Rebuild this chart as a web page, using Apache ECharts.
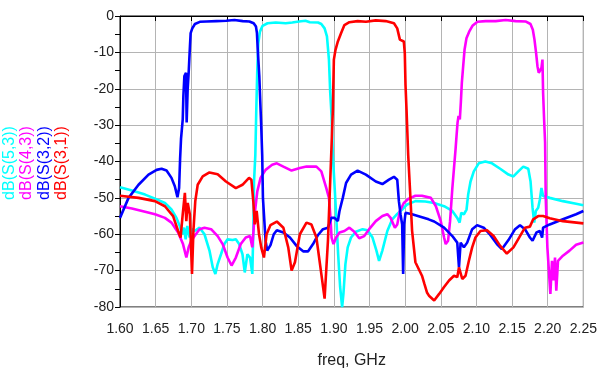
<!DOCTYPE html>
<html>
<head>
<meta charset="utf-8">
<script src="https://cdn.jsdelivr.net/npm/echarts@6/dist/echarts.min.js"></script>
<style>
  html, body { margin: 0; padding: 0; background: #fff; }
  #chart { width: 600px; height: 374px; }
</style>
</head>
<body>
<div id="chart"></div>
<script>
// 频率轴刻度 (GHz) 和 dB 轴刻度
const freqMin = 1.6
const freqMax = 2.25
const dbMin = -80
const dbMax = 0

// 各曲线 [freq, dB]
const s53 = [
  [1.600, -47.1], [1.6167, -48.0], [1.6352, -49.1], [1.6491, -50.2], [1.663, -51.4], [1.6722, -53.2],
  [1.6792, -55.5], [1.6838, -57.7], [1.687, -60.0], [1.6898, -58.2], [1.6921, -61.4], [1.6944, -57.7],
  [1.6977, -60.9], [1.7009, -58.6], [1.7046, -59.1], [1.7116, -58.2], [1.7185, -60.0], [1.7255, -64.5],
  [1.7301, -69.1], [1.7338, -70.9], [1.737, -68.2], [1.7417, -65.5], [1.7463, -62.7], [1.7509, -61.4],
  [1.7579, -61.6], [1.7625, -61.4], [1.7671, -62.7], [1.7718, -65.5], [1.775, -70.5], [1.7787, -65.5],
  [1.7824, -66.4], [1.7856, -70.9], [1.787, -59.1], [1.788, -45.5], [1.7898, -38.4], [1.7912, -25.6],
  [1.7926, -14.7], [1.794, -7.5], [1.7963, -4.3], [1.800, -2.7], [1.8069, -2.0], [1.8185, -1.8],
  [1.8324, -2.0], [1.8417, -1.8], [1.851, -1.5], [1.8602, -1.3], [1.8662, -1.7], [1.8778, -1.8],
  [1.8824, -2.2], [1.887, -3.4], [1.8903, -5.6], [1.8931, -12.0], [1.8949, -21.1], [1.8968, -27.5],
  [1.8986, -38.4], [1.9032, -54.5], [1.906, -65.5], [1.9088, -74.5], [1.9116, -80.0], [1.9134, -76.4],
  [1.9162, -68.2], [1.9194, -63.6], [1.9241, -60.9], [1.931, -59.3], [1.9403, -58.6], [1.9472, -58.9],
  [1.9542, -60.9], [1.9597, -64.5], [1.9634, -67.3], [1.968, -64.5], [1.975, -59.1], [1.9819, -55.9],
  [1.9889, -54.4], [1.9958, -53.2], [2.0028, -51.8], [2.0144, -50.9], [2.0282, -51.0], [2.0407, -51.4],
  [2.0546, -52.3], [2.0662, -53.6], [2.0731, -55.5], [2.0764, -56.8], [2.0787, -54.1], [2.0824, -54.5],
  [2.0861, -53.2], [2.0884, -49.1], [2.0917, -45.5], [2.0963, -42.7], [2.1032, -40.5], [2.1125, -40.0],
  [2.1218, -40.5], [2.1333, -42.0], [2.1449, -43.6], [2.1519, -44.1], [2.1588, -42.7], [2.1657, -41.4],
  [2.1727, -42.0], [2.1759, -45.5], [2.1787, -52.7], [2.181, -56.8], [2.1833, -53.6], [2.1866, -52.7],
  [2.1889, -50.5], [2.1912, -47.3], [2.1935, -49.5], [2.2028, -50.0], [2.2213, -50.9], [2.2398, -51.6],
  [2.25, -52.0]
]

const s43 = [
  [1.600, -52.3], [1.6167, -52.9], [1.6352, -53.8], [1.6491, -54.5], [1.663, -55.5], [1.6722, -56.8],
  [1.6815, -59.5], [1.6884, -62.7], [1.6931, -66.4], [1.6963, -63.6], [1.700, -61.8], [1.7056, -60.2],
  [1.7116, -58.6], [1.7185, -58.2], [1.7278, -58.6], [1.737, -60.5], [1.744, -62.7], [1.7509, -66.4],
  [1.7565, -68.6], [1.7625, -66.4], [1.7694, -62.7], [1.7764, -60.9], [1.7824, -60.5], [1.7856, -63.6],
  [1.7889, -54.5], [1.7926, -48.2], [1.7972, -44.5], [1.8042, -42.3], [1.8134, -40.9], [1.820, -40.5],
  [1.8292, -41.4], [1.8407, -42.5], [1.8523, -41.8], [1.8616, -41.4], [1.8755, -41.4], [1.8824, -42.7],
  [1.8894, -47.3], [1.8931, -50.0], [1.8949, -54.5], [1.8968, -60.9], [1.8995, -62.7], [1.9032, -60.9],
  [1.9079, -59.5], [1.9148, -59.1], [1.9218, -58.2], [1.9287, -59.3], [1.9356, -61.1], [1.9426, -60.5],
  [1.9495, -58.6], [1.9588, -56.4], [1.9681, -55.0], [1.975, -54.5], [1.9796, -55.5], [1.9856, -58.2],
  [1.9889, -57.3], [1.9926, -53.6], [1.9981, -51.4], [2.0051, -50.2], [2.0144, -49.4], [2.0236, -49.4],
  [2.0361, -50.0], [2.0431, -52.3], [2.050, -56.4], [2.0546, -60.9], [2.0569, -62.7], [2.0602, -61.8],
  [2.063, -56.4], [2.0662, -47.3], [2.0685, -41.8], [2.0708, -36.4], [2.0721, -32.9], [2.0735, -29.3],
  [2.0749, -27.5], [2.0767, -28.4], [2.0781, -23.8], [2.0795, -18.4], [2.0814, -13.8], [2.0833, -9.3],
  [2.086, -6.1], [2.0898, -4.3], [2.0944, -2.7], [2.1014, -1.6], [2.113, -1.4], [2.127, -1.4],
  [2.1409, -1.1], [2.1549, -1.4], [2.1688, -1.5], [2.1758, -2.2], [2.1791, -3.8], [2.1814, -6.5],
  [2.1837, -10.2], [2.1856, -13.8], [2.1874, -15.6], [2.1893, -16.1], [2.1912, -14.3], [2.1926, -12.0],
  [2.1935, -21.1], [2.1949, -28.4], [2.1963, -34.7], [2.1972, -50.0], [2.1995, -63.6], [2.2019, -70.9],
  [2.2037, -76.4], [2.206, -67.3], [2.2083, -72.7], [2.2102, -66.4], [2.212, -75.5], [2.2144, -67.3],
  [2.2213, -65.9], [2.2306, -64.5], [2.2398, -62.9], [2.25, -62.3]
]

const s32 = [
  [1.600, -55.5], [1.612, -50.0], [1.626, -46.4], [1.640, -43.6], [1.6514, -42.3], [1.6583, -42.0],
  [1.6653, -42.5], [1.6722, -44.5], [1.6769, -46.8], [1.6806, -49.8], [1.6829, -47.3], [1.6843, -39.3],
  [1.6856, -33.8], [1.688, -28.4], [1.6889, -22.0], [1.6903, -16.5], [1.6926, -15.6], [1.6935, -29.3],
  [1.6949, -20.2], [1.6963, -15.6], [1.6972, -12.0], [1.6981, -8.4], [1.6991, -4.7], [1.7014, -3.4],
  [1.7051, -2.2], [1.712, -1.6], [1.7213, -1.5], [1.7352, -1.4], [1.749, -1.3], [1.7606, -1.1],
  [1.7722, -1.4], [1.7815, -1.5], [1.7875, -2.0], [1.7907, -2.9], [1.7921, -4.7], [1.793, -8.4],
  [1.7954, -16.5], [1.7968, -23.8], [1.7981, -30.2], [1.7995, -38.4], [1.8005, -50.0], [1.8042, -61.8],
  [1.8065, -64.5], [1.8111, -63.0], [1.8157, -60.0], [1.820, -58.9], [1.8292, -59.5], [1.8384, -60.9],
  [1.8477, -63.2], [1.8569, -64.7], [1.8639, -64.7], [1.8708, -62.7], [1.8778, -60.2], [1.8847, -58.6],
  [1.8917, -58.2], [1.8963, -55.5], [1.9009, -55.5], [1.9056, -56.4], [1.9079, -53.6], [1.9125, -50.0],
  [1.9171, -45.9], [1.9241, -43.6], [1.9333, -42.5], [1.9449, -43.6], [1.9588, -45.5], [1.9681, -46.2],
  [1.9773, -45.0], [1.9843, -44.2], [1.9889, -45.0], [1.9912, -50.9], [1.9935, -54.5], [1.9958, -57.3],
  [1.9972, -70.9], [1.9986, -57.3], [2.0005, -54.1], [2.0097, -54.5], [2.0236, -55.3], [2.0329, -55.9],
  [2.0407, -56.5], [2.0546, -58.2], [2.0662, -60.5], [2.0731, -62.3], [2.0755, -69.1], [2.0778, -62.3],
  [2.0824, -63.6], [2.087, -62.3], [2.094, -58.6], [2.1009, -57.5], [2.1102, -58.2], [2.1194, -60.2],
  [2.1287, -62.7], [2.1356, -64.1], [2.1449, -61.6], [2.1542, -58.6], [2.1611, -57.5], [2.1681, -58.6],
  [2.175, -60.9], [2.1787, -61.8], [2.1843, -59.5], [2.1889, -59.1], [2.1921, -60.9], [2.1935, -58.2],
  [2.2028, -57.3], [2.2213, -55.9], [2.2398, -54.5], [2.25, -53.6]
]

const s31 = [
  [1.600, -49.4], [1.626, -50.0], [1.649, -50.9], [1.663, -52.3], [1.6745, -55.0], [1.6815, -59.1],
  [1.685, -60.9], [1.688, -54.5], [1.691, -48.6], [1.693, -56.4], [1.695, -51.4], [1.698, -54.5],
  [1.699, -60.0], [1.701, -70.9], [1.703, -59.0], [1.7056, -50.9], [1.709, -46.4], [1.716, -44.1],
  [1.7255, -43.0], [1.737, -43.5], [1.7486, -45.5], [1.7625, -47.3], [1.7718, -46.4], [1.781, -44.5],
  [1.7843, -45.0], [1.787, -51.0], [1.789, -57.3], [1.7917, -53.6], [1.795, -60.0], [1.7981, -63.6],
  [1.8019, -66.4], [1.8056, -60.0], [1.811, -57.5], [1.820, -56.5], [1.8292, -58.2], [1.836, -63.6],
  [1.8407, -70.0], [1.8454, -67.7], [1.8523, -60.0], [1.8616, -56.8], [1.8685, -57.3], [1.8755, -60.9],
  [1.8824, -70.9], [1.887, -77.7], [1.8917, -61.8], [1.8963, -38.0], [1.8986, -25.6], [1.900, -12.0],
  [1.9023, -9.3], [1.9056, -7.0], [1.9102, -4.7], [1.9148, -2.5], [1.9218, -1.7], [1.9333, -1.4],
  [1.945, -1.6], [1.9588, -1.2], [1.9727, -1.4], [1.9843, -2.0], [1.9889, -3.4], [1.9926, -6.5],
  [1.9981, -7.0], [1.9995, -10.2], [2.0005, -19.0], [2.0019, -25.6], [2.0042, -38.0], [2.0074, -50.0],
  [2.0097, -59.0], [2.0144, -67.7], [2.0236, -71.4], [2.0269, -73.6], [2.0306, -76.0], [2.0338, -77.0],
  [2.0407, -78.2], [2.0477, -76.4], [2.0546, -74.5], [2.0616, -72.7], [2.0685, -71.4], [2.0731, -71.8],
  [2.0755, -69.1], [2.0801, -72.3], [2.0847, -71.4], [2.0894, -67.3], [2.094, -63.6], [2.0986, -60.9],
  [2.1056, -59.1], [2.1148, -58.9], [2.1241, -60.5], [2.1333, -63.2], [2.1426, -65.3], [2.1519, -63.6],
  [2.1611, -60.5], [2.1681, -58.2], [2.175, -57.9], [2.1796, -55.9], [2.1866, -55.0], [2.1935, -55.0],
  [2.2028, -55.6], [2.2213, -56.4], [2.25, -57.0]
]

const seriesNames = ['dB(S(5,3))', 'dB(S(4,3))', 'dB(S(3,2))', 'dB(S(3,1))']
const seriesColors = ['#00ffff', '#ff00ff', '#0000ff', '#ff0000']
const seriesData = [s53, s43, s32, s31]

const fontFamily = 'Arial, "Liberation Sans", sans-serif'
const myChart = echarts.init(document.getElementById('chart'), null, { renderer: 'canvas' })

let series = seriesData.map((data, index) => ({
  name: seriesNames[index],
  type: 'line',
  data,
  showSymbol: false,
  symbol: 'none',
  lineStyle: { color: seriesColors[index], width: 2.6 },
  itemStyle: { color: seriesColors[index] },
  emphasis: { disabled: true }
}))

// 左侧竖排的曲线名称
let yLabels = seriesNames.map((name, index) => ({
  type: 'text',
  x: 9.5 + index * 17.4,
  y: 163,
  rotation: Math.PI / 2,
  style: {
    text: name,
    fill: seriesColors[index],
    font: '16px ' + fontFamily,
    textAlign: 'center',
    textVerticalAlign: 'middle'
  }
}))

let option = {
  animation: false,
  backgroundColor: '#fff',
  textStyle: { fontFamily },
  grid: {
    left: 120,
    right: 14,
    top: 16,
    bottom: 64,
    show: true,
    borderColor: '#000',
    borderWidth: 1
  },
  xAxis: {
    type: 'value',
    min: freqMin,
    max: freqMax,
    interval: 0.05,
    name: 'freq, GHz',
    nameLocation: 'middle',
    nameGap: 46,
    nameTextStyle: { fontSize: 16, color: '#222', fontFamily },
    axisLine: { lineStyle: { color: '#000', width: 1 } },
    axisTick: { show: true, length: 5, lineStyle: { color: '#000' } },
    axisLabel: {
      margin: 15,
      fontSize: 14,
      color: '#222',
      fontFamily,
      formatter: (v) => v.toFixed(2)
    },
    splitLine: { show: true, lineStyle: { color: '#b4b4b4', width: 1 } }
  },
  yAxis: {
    type: 'value',
    min: dbMin,
    max: dbMax,
    interval: 10,
    axisLine: { show: true, lineStyle: { color: '#000', width: 1 } },
    axisTick: { show: true, length: 5, lineStyle: { color: '#000' } },
    minorTick: { show: true, splitNumber: 2, length: 5, lineStyle: { color: '#000' } },
    axisLabel: { margin: 6, fontSize: 14, color: '#222', fontFamily },
    splitLine: { show: true, lineStyle: { color: '#b4b4b4', width: 1 } }
  },
  graphic: yLabels,
  series
}

myChart.setOption(option)
</script>
</body>
</html>
